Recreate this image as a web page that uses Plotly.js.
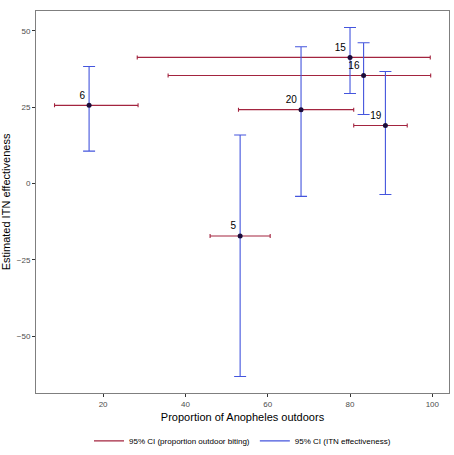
<!DOCTYPE html>
<html>
<head>
<meta charset="utf-8">
<script src="https://cdn.plot.ly/plotly-3.0.1.min.js"></script>
<style>html,body{margin:0;padding:0;background:#fff;}#chart{width:454px;height:455px;}</style>
</head>
<body>
<div id="chart"></div>
<script>
const sites = ["6", "15", "16", "20", "19", "5"];
const propOutdoor = [16.6, 80.0, 83.3, 68.1, 88.6, 53.3];
const propLower = [8.2, 28.3, 35.8, 52.9, 80.9, 46.0];
const propUpper = [28.5, 99.5, 99.6, 80.9, 93.9, 60.6];
const itnEffect = [25.6, 41.3, 35.4, 24.2, 19.0, -17.2];
const itnLower = [10.6, 29.5, 22.6, -4.2, -3.6, -63.2];
const itnUpper = [38.3, 51.1, 46.1, 44.8, 36.7, 15.9];
const xTicks = [20, 40, 60, 80, 100];
const yTicks = [-50, -25, 0, 25, 50];

const red = "#a3243f";
const blue = "#4455dd";

const traces = [
  {
    x: propOutdoor, y: itnEffect, type: "scatter", mode: "markers",
    marker: {size: 1, opacity: 0},
    error_x: {type: "data", symmetric: false,
      array: propUpper.map((u, i) => u - propOutdoor[i]),
      arrayminus: propLower.map((l, i) => propOutdoor[i] - l),
      color: red, thickness: 1.1, width: 2},
    showlegend: false, hoverinfo: "skip"
  },
  {
    x: propOutdoor, y: itnEffect, type: "scatter", mode: "markers",
    marker: {size: 1, opacity: 0},
    error_y: {type: "data", symmetric: false,
      array: itnUpper.map((u, i) => u - itnEffect[i]),
      arrayminus: itnLower.map((l, i) => itnEffect[i] - l),
      color: blue, thickness: 1.1, width: 6},
    showlegend: false, hoverinfo: "skip"
  },
  {
    x: propOutdoor, y: itnEffect, type: "scatter", mode: "markers+text",
    text: sites, textposition: "top left",
    textfont: {family: "Liberation Sans, Arial, sans-serif", size: 10, color: "#000"},
    marker: {size: 5, color: "#1b0c3a"},
    showlegend: false, hoverinfo: "skip"
  },
  {
    x: [null], y: [null], type: "scatter", mode: "lines",
    line: {color: red, width: 1.2}, name: "95% CI (proportion outdoor biting)"
  },
  {
    x: [null], y: [null], type: "scatter", mode: "lines",
    line: {color: blue, width: 1.2}, name: "95% CI (ITN effectiveness)"
  }
];

const axisCommon = {
  showgrid: false, zeroline: false, showline: true, mirror: true,
  linecolor: "#7f7f7f", linewidth: 1,
  ticks: "outside", ticklen: 3, tickcolor: "#333", tickwidth: 1,
  tickfont: {family: "Liberation Sans, Arial, sans-serif", size: 8, color: "#4d4d4d"}
};

const layout = {
  width: 454, height: 455,
  margin: {l: 36, r: 5, t: 11, b: 62},
  paper_bgcolor: "#fff", plot_bgcolor: "#fff",
  font: {family: "Liberation Sans, Arial, sans-serif"},
  xaxis: Object.assign({}, axisCommon, {
    range: [3.7, 104.05], tickvals: xTicks, ticktext: xTicks.map(String),
    title: {text: "Proportion of Anopheles outdoors", font: {size: 11, color: "#000"}, standoff: 5}
  }),
  yaxis: Object.assign({}, axisCommon, {
    range: [-68.6, 56.5], tickvals: yTicks, ticktext: yTicks.map(v => v < 0 ? "\u2212" + Math.abs(v) : String(v)),
    title: {text: "Estimated ITN effectiveness", font: {size: 11, color: "#000"}, standoff: 4}
  }),
  legend: {
    orientation: "h", x: 0.5, xanchor: "center", yref: "container", y: 0.031, yanchor: "middle",
    font: {size: 8, color: "#000"}, itemwidth: 30, tracegroupgap: 0
  },
  showlegend: true
};

Plotly.newPlot("chart", traces, layout, {displayModeBar: false, staticPlot: true});
</script>
</body>
</html>
